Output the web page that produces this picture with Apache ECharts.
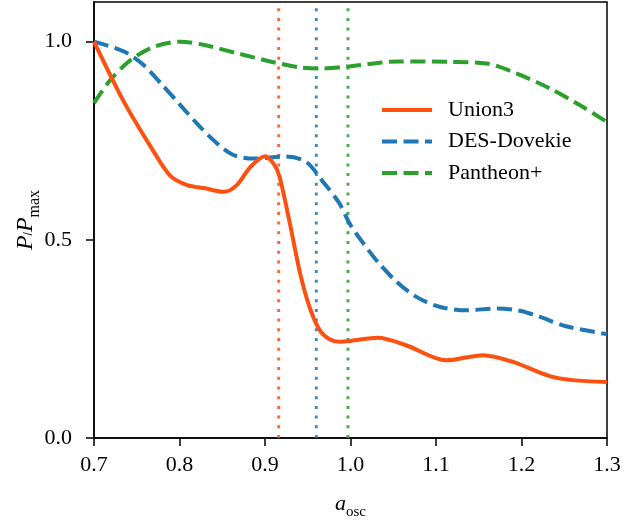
<!DOCTYPE html>
<html>
<head>
<meta charset="utf-8">
<script src="https://cdn.jsdelivr.net/npm/echarts@6/dist/echarts.min.js"></script>
<style>html,body{margin:0;padding:0;background:#fff}#c{width:624px;height:520px}</style>
</head>
<body>
<div id="c"></div>
<script>
const seriesNames = ['Union3', 'DES-Dovekie', 'Pantheon+'];
const colors = ['#ff5010', '#1f77b4', '#2ca02c'];
const dotColors = ['rgba(255,80,16,0.85)', 'rgba(31,119,180,0.85)', 'rgba(44,160,44,0.85)'];
const xTicks = [0.7, 0.8, 0.9, 1.0, 1.1, 1.2, 1.3];
const yTicks = [0.0, 0.5, 1.0];

const union3 = [[0.7,1.0],[0.735,0.848],[0.770,0.722],[0.789,0.662],[0.809,0.638],[0.830,0.630],[0.852,0.621],[0.867,0.638],[0.883,0.684],[0.900,0.711],[0.910,0.692],[0.917,0.659],[0.929,0.542],[0.941,0.416],[0.952,0.331],[0.964,0.272],[0.975,0.250],[0.987,0.243],[1.0,0.245],[1.032,0.253],[1.065,0.234],[1.112,0.196],[1.155,0.209],[1.19,0.192],[1.233,0.156],[1.260,0.146],[1.3,0.141]];
const desDovekie = [[0.7,1.0],[0.735,0.975],[0.758,0.941],[0.778,0.895],[0.801,0.840],[0.824,0.785],[0.844,0.743],[0.863,0.714],[0.887,0.705],[0.925,0.710],[0.948,0.697],[0.968,0.646],[0.987,0.592],[0.999,0.541],[1.015,0.491],[1.032,0.444],[1.054,0.394],[1.077,0.356],[1.104,0.331],[1.136,0.322],[1.171,0.327],[1.198,0.321],[1.221,0.306],[1.252,0.282],[1.3,0.262]];
const pantheon = [[0.7,0.845],[0.719,0.903],[0.743,0.954],[0.770,0.987],[0.801,1.0],[0.828,0.992],[0.867,0.971],[0.906,0.950],[0.941,0.935],[0.965,0.932],[0.995,0.937],[1.057,0.950],[1.115,0.949],[1.159,0.945],[1.194,0.920],[1.233,0.882],[1.272,0.835],[1.3,0.797]];
const vlines = [0.916, 0.960, 0.997];

const FONT = 'Liberation Serif';
const chart = echarts.init(document.getElementById('c'), null, {renderer: 'canvas'});
const dash = [15, 6.5];
const mainSeries = [
  {name: seriesNames[0], data: union3, type: 'line', smooth: 0.3, symbol: 'none', z: 5,
   lineStyle: {color: colors[0], width: 4, type: 'solid'}, itemStyle: {color: colors[0]}},
  {name: seriesNames[1], data: desDovekie, type: 'line', smooth: 0.3, symbol: 'none', z: 4,
   lineStyle: {color: colors[1], width: 4, type: dash}, itemStyle: {color: colors[1]}},
  {name: seriesNames[2], data: pantheon, type: 'line', smooth: 0.3, symbol: 'none', z: 3,
   lineStyle: {color: colors[2], width: 4, type: dash}, itemStyle: {color: colors[2]}}
];
const vSeries = vlines.map((v, i) => ({
  name: 'v' + i, type: 'line', symbol: 'none', z: 2, silent: true,
  data: [[v, 0], [v, 1.1]],
  lineStyle: {color: dotColors[i], width: 3, type: [3, 6.7]}
}));

const richName = (big, small) => ({
  i: {fontFamily: FONT, fontStyle: 'italic', fontSize: big, lineHeight: big, verticalAlign: 'top', color: '#000'},
  s: {fontFamily: FONT, fontSize: small, lineHeight: big + 5, verticalAlign: 'bottom', color: '#000'}
});

chart.setOption({
  animation: false,
  backgroundColor: '#fff',
  grid: {left: 94, right: 17, top: 2, bottom: 82, show: true, borderColor: '#000', borderWidth: 1.5,
         backgroundColor: 'transparent', containLabel: false, outerBoundsMode: 'none'},
  legend: {
    data: seriesNames, left: 380, top: 99, orient: 'vertical', padding: 0,
    itemWidth: 50, itemHeight: 14, itemGap: 9.5,
    itemStyle: {opacity: 0},
    lineStyle: {width: 4},
    textStyle: {fontFamily: FONT, fontSize: 22, color: '#000', lineHeight: 22, padding: [0,0,0,11]}
  },
  xAxis: {
    type: 'value', min: 0.7, max: 1.3,
    name: '{i|a}{s|osc}', nameLocation: 'middle', nameGap: 55, nameMoveOverlap: false,
    nameTextStyle: {rich: richName(22, 15)},
    axisLine: {show: true, onZero: false, lineStyle: {color: '#000', width: 1.5}},
    axisTick: {show: true, inside: false, length: 8, lineStyle: {color: '#000', width: 1.5}, customValues: xTicks},
    axisLabel: {customValues: xTicks, formatter: v => v.toFixed(1), fontFamily: FONT, fontSize: 22, color: '#000', margin: 16},
    splitLine: {show: false}
  },
  yAxis: {
    type: 'value', min: 0, max: 1.1,
    name: '{i|P}/{i|P}{s|max}', nameLocation: 'middle', nameGap: 51, nameRotate: 90, nameMoveOverlap: false,
    nameTextStyle: {rich: richName(24, 16)},
    axisLine: {show: true, onZero: false, lineStyle: {color: '#000', width: 1.5}},
    axisTick: {show: true, inside: false, length: 8, lineStyle: {color: '#000', width: 1.5}, customValues: yTicks},
    axisLabel: {customValues: yTicks, formatter: v => v.toFixed(1), fontFamily: FONT, fontSize: 22, color: '#000', margin: 22},
    splitLine: {show: false}
  },
  series: vSeries.concat(mainSeries)
});
</script>
</body>
</html>
